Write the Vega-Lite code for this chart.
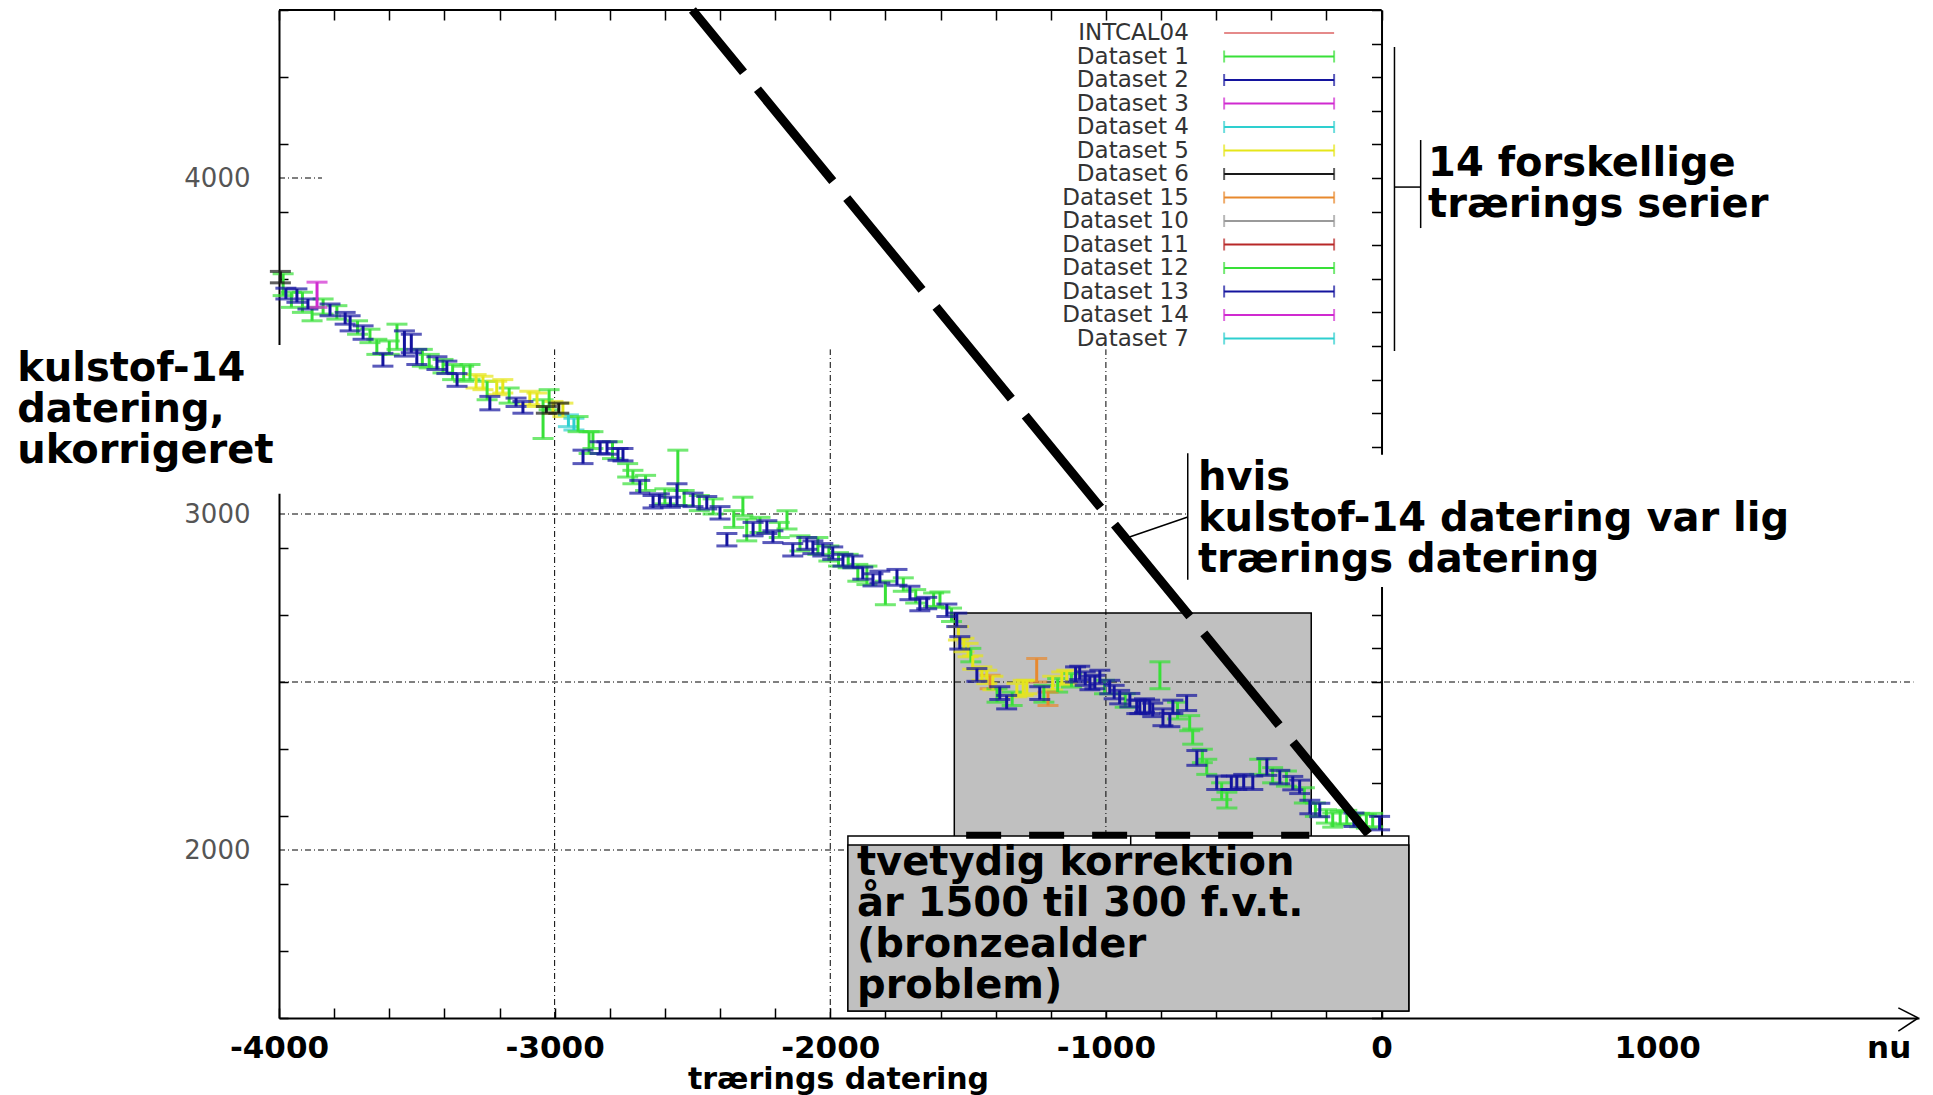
{
  "$schema": "https://vega.github.io/schema/vega-lite/v6.json",
  "autosize": {"type": "none"},
  "width": 1640,
  "height": 1008,
  "padding": {"left": 279, "top": 10, "right": 14, "bottom": 77},
  "background": "white",
  "config": {"view": {"stroke": null}, "font": "DejaVu Sans", "axis": {"grid": false}},
  "data": {"values": [{}]},
  "datasets": {
    "pts": [
      {"s":"Dataset 1","x":-3985,"lo":3650,"hi":3715},
      {"s":"Dataset 12","x":-3955,"lo":3615,"hi":3660},
      {"s":"Dataset 1","x":-3915,"lo":3600,"hi":3660},
      {"s":"Dataset 12","x":-3880,"lo":3575,"hi":3615},
      {"s":"Dataset 1","x":-3840,"lo":3595,"hi":3640},
      {"s":"Dataset 12","x":-3790,"lo":3580,"hi":3620},
      {"s":"Dataset 1","x":-3715,"lo":3535,"hi":3575},
      {"s":"Dataset 12","x":-3670,"lo":3510,"hi":3550},
      {"s":"Dataset 1","x":-3645,"lo":3475,"hi":3520},
      {"s":"Dataset 12","x":-3600,"lo":3475,"hi":3515},
      {"s":"Dataset 1","x":-3572,"lo":3490,"hi":3565},
      {"s":"Dataset 12","x":-3480,"lo":3440,"hi":3490},
      {"s":"Dataset 1","x":-3455,"lo":3435,"hi":3475},
      {"s":"Dataset 12","x":-3405,"lo":3420,"hi":3460},
      {"s":"Dataset 1","x":-3370,"lo":3400,"hi":3445},
      {"s":"Dataset 1","x":-3330,"lo":3395,"hi":3440},
      {"s":"Dataset 1","x":-3307,"lo":3400,"hi":3445},
      {"s":"Dataset 5","x":-3285,"lo":3375,"hi":3415},
      {"s":"Dataset 5","x":-3260,"lo":3370,"hi":3410},
      {"s":"Dataset 12","x":-3245,"lo":3340,"hi":3395},
      {"s":"Dataset 5","x":-3210,"lo":3355,"hi":3395},
      {"s":"Dataset 5","x":-3188,"lo":3360,"hi":3400},
      {"s":"Dataset 1","x":-3165,"lo":3330,"hi":3375},
      {"s":"Dataset 5","x":-3090,"lo":3325,"hi":3365},
      {"s":"Dataset 5","x":-3064,"lo":3320,"hi":3360},
      {"s":"Dataset 1","x":-3042,"lo":3225,"hi":3340},
      {"s":"Dataset 12","x":-3020,"lo":3310,"hi":3370},
      {"s":"Dataset 5","x":-3006,"lo":3300,"hi":3335},
      {"s":"Dataset 5","x":-2970,"lo":3290,"hi":3330},
      {"s":"Dataset 4","x":-2950,"lo":3260,"hi":3295},
      {"s":"Dataset 7","x":-2930,"lo":3250,"hi":3285},
      {"s":"Dataset 12","x":-2915,"lo":3245,"hi":3290},
      {"s":"Dataset 1","x":-2875,"lo":3180,"hi":3245},
      {"s":"Dataset 12","x":-2861,"lo":3195,"hi":3245},
      {"s":"Dataset 1","x":-2790,"lo":3165,"hi":3215},
      {"s":"Dataset 12","x":-2735,"lo":3110,"hi":3150},
      {"s":"Dataset 1","x":-2716,"lo":3090,"hi":3130},
      {"s":"Dataset 12","x":-2670,"lo":3070,"hi":3115},
      {"s":"Dataset 1","x":-2600,"lo":3030,"hi":3075},
      {"s":"Dataset 1","x":-2553,"lo":3070,"hi":3190},
      {"s":"Dataset 12","x":-2530,"lo":3025,"hi":3070},
      {"s":"Dataset 1","x":-2475,"lo":3010,"hi":3055},
      {"s":"Dataset 12","x":-2425,"lo":3000,"hi":3045},
      {"s":"Dataset 1","x":-2350,"lo":2960,"hi":3010},
      {"s":"Dataset 12","x":-2317,"lo":2995,"hi":3050},
      {"s":"Dataset 1","x":-2303,"lo":2920,"hi":2985},
      {"s":"Dataset 12","x":-2255,"lo":2945,"hi":2990},
      {"s":"Dataset 1","x":-2185,"lo":2930,"hi":2975},
      {"s":"Dataset 12","x":-2157,"lo":2955,"hi":3010},
      {"s":"Dataset 1","x":-2110,"lo":2890,"hi":2935},
      {"s":"Dataset 12","x":-2045,"lo":2880,"hi":2930},
      {"s":"Dataset 1","x":-2005,"lo":2860,"hi":2905},
      {"s":"Dataset 12","x":-1970,"lo":2845,"hi":2885},
      {"s":"Dataset 1","x":-1935,"lo":2840,"hi":2880},
      {"s":"Dataset 12","x":-1900,"lo":2800,"hi":2850},
      {"s":"Dataset 1","x":-1867,"lo":2790,"hi":2845},
      {"s":"Dataset 1","x":-1800,"lo":2730,"hi":2800},
      {"s":"Dataset 12","x":-1735,"lo":2770,"hi":2810},
      {"s":"Dataset 1","x":-1690,"lo":2735,"hi":2775},
      {"s":"Dataset 12","x":-1625,"lo":2725,"hi":2765},
      {"s":"Dataset 1","x":-1602,"lo":2722,"hi":2768},
      {"s":"Dataset 12","x":-1560,"lo":2680,"hi":2720},
      {"s":"Dataset 5","x":-1535,"lo":2625,"hi":2665},
      {"s":"Dataset 5","x":-1515,"lo":2590,"hi":2630},
      {"s":"Dataset 5","x":-1500,"lo":2575,"hi":2615},
      {"s":"Dataset 1","x":-1490,"lo":2560,"hi":2600},
      {"s":"Dataset 5","x":-1483,"lo":2538,"hi":2578},
      {"s":"Dataset 5","x":-1450,"lo":2505,"hi":2545},
      {"s":"Dataset 5","x":-1432,"lo":2495,"hi":2535},
      {"s":"Dataset 15","x":-1420,"lo":2480,"hi":2520},
      {"s":"Dataset 5","x":-1410,"lo":2477,"hi":2517},
      {"s":"Dataset 1","x":-1395,"lo":2440,"hi":2480},
      {"s":"Dataset 12","x":-1340,"lo":2430,"hi":2470},
      {"s":"Dataset 5","x":-1323,"lo":2456,"hi":2496},
      {"s":"Dataset 5","x":-1300,"lo":2460,"hi":2505},
      {"s":"Dataset 5","x":-1287,"lo":2465,"hi":2505},
      {"s":"Dataset 15","x":-1251,"lo":2500,"hi":2570},
      {"s":"Dataset 1","x":-1225,"lo":2440,"hi":2490},
      {"s":"Dataset 15","x":-1210,"lo":2430,"hi":2470},
      {"s":"Dataset 5","x":-1193,"lo":2477,"hi":2517},
      {"s":"Dataset 12","x":-1175,"lo":2470,"hi":2510},
      {"s":"Dataset 5","x":-1160,"lo":2490,"hi":2530},
      {"s":"Dataset 5","x":-1142,"lo":2495,"hi":2535},
      {"s":"Dataset 1","x":-1125,"lo":2485,"hi":2525},
      {"s":"Dataset 1","x":-1005,"lo":2465,"hi":2505},
      {"s":"Dataset 12","x":-930,"lo":2425,"hi":2465},
      {"s":"Dataset 1","x":-804,"lo":2480,"hi":2560},
      {"s":"Dataset 12","x":-740,"lo":2390,"hi":2440},
      {"s":"Dataset 12","x":-696,"lo":2355,"hi":2400},
      {"s":"Dataset 1","x":-685,"lo":2315,"hi":2360},
      {"s":"Dataset 12","x":-650,"lo":2260,"hi":2300},
      {"s":"Dataset 1","x":-634,"lo":2225,"hi":2270},
      {"s":"Dataset 12","x":-580,"lo":2150,"hi":2200},
      {"s":"Dataset 1","x":-561,"lo":2125,"hi":2172},
      {"s":"Dataset 1","x":-442,"lo":2225,"hi":2270},
      {"s":"Dataset 12","x":-395,"lo":2200,"hi":2245},
      {"s":"Dataset 1","x":-345,"lo":2190,"hi":2235},
      {"s":"Dataset 12","x":-280,"lo":2140,"hi":2185},
      {"s":"Dataset 1","x":-240,"lo":2100,"hi":2140},
      {"s":"Dataset 12","x":-200,"lo":2080,"hi":2120},
      {"s":"Dataset 1","x":-177,"lo":2068,"hi":2110},
      {"s":"Dataset 12","x":-150,"lo":2075,"hi":2115},
      {"s":"Dataset 1","x":-126,"lo":2078,"hi":2118},
      {"s":"Dataset 1","x":-79,"lo":2069,"hi":2109},
      {"s":"Dataset 12","x":-55,"lo":2065,"hi":2105},
      {"s":"Dataset 1","x":-32,"lo":2069,"hi":2109},
      {"s":"Dataset 6","x":-3995,"lo":3688,"hi":3722},
      {"s":"Dataset 2","x":-3975,"lo":3640,"hi":3672},
      {"s":"Dataset 13","x":-3935,"lo":3630,"hi":3670},
      {"s":"Dataset 2","x":-3895,"lo":3610,"hi":3640},
      {"s":"Dataset 14","x":-3862,"lo":3615,"hi":3690},
      {"s":"Dataset 13","x":-3815,"lo":3590,"hi":3625},
      {"s":"Dataset 2","x":-3760,"lo":3565,"hi":3600},
      {"s":"Dataset 2","x":-3742,"lo":3545,"hi":3590},
      {"s":"Dataset 2","x":-3695,"lo":3520,"hi":3560},
      {"s":"Dataset 2","x":-3623,"lo":3440,"hi":3478},
      {"s":"Dataset 13","x":-3545,"lo":3470,"hi":3545},
      {"s":"Dataset 2","x":-3520,"lo":3480,"hi":3535},
      {"s":"Dataset 2","x":-3500,"lo":3445,"hi":3490},
      {"s":"Dataset 2","x":-3427,"lo":3430,"hi":3468},
      {"s":"Dataset 2","x":-3391,"lo":3418,"hi":3455},
      {"s":"Dataset 13","x":-3354,"lo":3380,"hi":3418},
      {"s":"Dataset 2","x":-3235,"lo":3310,"hi":3350},
      {"s":"Dataset 2","x":-3140,"lo":3320,"hi":3345},
      {"s":"Dataset 13","x":-3115,"lo":3300,"hi":3335},
      {"s":"Dataset 6","x":-3030,"lo":3300,"hi":3320},
      {"s":"Dataset 6","x":-2985,"lo":3300,"hi":3330},
      {"s":"Dataset 2","x":-2897,"lo":3150,"hi":3190},
      {"s":"Dataset 2","x":-2835,"lo":3180,"hi":3215},
      {"s":"Dataset 2","x":-2810,"lo":3178,"hi":3215},
      {"s":"Dataset 13","x":-2770,"lo":3160,"hi":3195},
      {"s":"Dataset 2","x":-2752,"lo":3158,"hi":3195},
      {"s":"Dataset 2","x":-2691,"lo":3062,"hi":3100},
      {"s":"Dataset 2","x":-2643,"lo":3018,"hi":3055},
      {"s":"Dataset 2","x":-2620,"lo":3025,"hi":3060},
      {"s":"Dataset 13","x":-2580,"lo":3020,"hi":3050},
      {"s":"Dataset 2","x":-2556,"lo":3025,"hi":3090},
      {"s":"Dataset 2","x":-2498,"lo":3022,"hi":3062},
      {"s":"Dataset 2","x":-2448,"lo":3015,"hi":3052},
      {"s":"Dataset 2","x":-2400,"lo":2985,"hi":3022},
      {"s":"Dataset 2","x":-2375,"lo":2905,"hi":2942},
      {"s":"Dataset 13","x":-2280,"lo":2935,"hi":2975},
      {"s":"Dataset 2","x":-2230,"lo":2942,"hi":2980},
      {"s":"Dataset 2","x":-2208,"lo":2915,"hi":2950},
      {"s":"Dataset 2","x":-2136,"lo":2875,"hi":2912},
      {"s":"Dataset 13","x":-2085,"lo":2895,"hi":2930},
      {"s":"Dataset 2","x":-2063,"lo":2882,"hi":2920},
      {"s":"Dataset 2","x":-2027,"lo":2875,"hi":2912},
      {"s":"Dataset 2","x":-1991,"lo":2865,"hi":2902},
      {"s":"Dataset 2","x":-1954,"lo":2845,"hi":2880},
      {"s":"Dataset 2","x":-1918,"lo":2840,"hi":2875},
      {"s":"Dataset 2","x":-1882,"lo":2806,"hi":2842},
      {"s":"Dataset 2","x":-1845,"lo":2786,"hi":2822},
      {"s":"Dataset 2","x":-1820,"lo":2795,"hi":2830},
      {"s":"Dataset 2","x":-1758,"lo":2788,"hi":2835},
      {"s":"Dataset 2","x":-1711,"lo":2745,"hi":2785},
      {"s":"Dataset 2","x":-1675,"lo":2712,"hi":2748},
      {"s":"Dataset 13","x":-1650,"lo":2718,"hi":2752},
      {"s":"Dataset 2","x":-1577,"lo":2695,"hi":2732},
      {"s":"Dataset 2","x":-1541,"lo":2665,"hi":2705},
      {"s":"Dataset 2","x":-1530,"lo":2598,"hi":2635},
      {"s":"Dataset 2","x":-1468,"lo":2502,"hi":2540},
      {"s":"Dataset 2","x":-1385,"lo":2448,"hi":2486},
      {"s":"Dataset 2","x":-1360,"lo":2420,"hi":2460},
      {"s":"Dataset 2","x":-1240,"lo":2448,"hi":2486},
      {"s":"Dataset 2","x":-1110,"lo":2500,"hi":2545},
      {"s":"Dataset 2","x":-1095,"lo":2507,"hi":2547},
      {"s":"Dataset 13","x":-1075,"lo":2490,"hi":2530},
      {"s":"Dataset 2","x":-1058,"lo":2477,"hi":2517},
      {"s":"Dataset 2","x":-1040,"lo":2480,"hi":2520},
      {"s":"Dataset 2","x":-1022,"lo":2495,"hi":2535},
      {"s":"Dataset 2","x":-986,"lo":2465,"hi":2505},
      {"s":"Dataset 13","x":-970,"lo":2450,"hi":2490},
      {"s":"Dataset 2","x":-950,"lo":2435,"hi":2475},
      {"s":"Dataset 2","x":-913,"lo":2426,"hi":2466},
      {"s":"Dataset 2","x":-888,"lo":2406,"hi":2446},
      {"s":"Dataset 2","x":-877,"lo":2406,"hi":2446},
      {"s":"Dataset 13","x":-860,"lo":2410,"hi":2450},
      {"s":"Dataset 2","x":-841,"lo":2406,"hi":2446},
      {"s":"Dataset 2","x":-830,"lo":2397,"hi":2437},
      {"s":"Dataset 2","x":-793,"lo":2370,"hi":2420},
      {"s":"Dataset 13","x":-768,"lo":2367,"hi":2407},
      {"s":"Dataset 2","x":-757,"lo":2406,"hi":2446},
      {"s":"Dataset 2","x":-707,"lo":2415,"hi":2460},
      {"s":"Dataset 2","x":-670,"lo":2252,"hi":2296},
      {"s":"Dataset 2","x":-598,"lo":2180,"hi":2220},
      {"s":"Dataset 2","x":-545,"lo":2180,"hi":2220},
      {"s":"Dataset 2","x":-525,"lo":2180,"hi":2220},
      {"s":"Dataset 13","x":-500,"lo":2185,"hi":2225},
      {"s":"Dataset 2","x":-467,"lo":2180,"hi":2220},
      {"s":"Dataset 2","x":-416,"lo":2222,"hi":2272},
      {"s":"Dataset 2","x":-369,"lo":2197,"hi":2237},
      {"s":"Dataset 2","x":-322,"lo":2179,"hi":2219},
      {"s":"Dataset 13","x":-297,"lo":2168,"hi":2208},
      {"s":"Dataset 2","x":-260,"lo":2108,"hi":2148},
      {"s":"Dataset 2","x":-224,"lo":2099,"hi":2139},
      {"s":"Dataset 13","x":-100,"lo":2070,"hi":2110},
      {"s":"Dataset 13","x":-7,"lo":2060,"hi":2100}
    ],
    "hgrid": [
      {"y": 4000, "a": -4000, "b": -3844},
      {"y": 3000, "a": -4000, "b": 1950},
      {"y": 2500, "a": -4000, "b": 1930},
      {"y": 2000, "a": -4000, "b": -1936}
    ],
    "vgrid": [{"x": -3000}, {"x": -2000}, {"x": -1000}],
    "lines": [
      {"x1": 47, "y1": 3485, "x2": 47, "y2": 4390},
      {"x1": 47, "y1": 3973, "x2": 142, "y2": 3973},
      {"x1": 142, "y1": 3851, "x2": 142, "y2": 4113},
      {"x1": -703, "y1": 2804, "x2": -703, "y2": 3181},
      {"x1": -917, "y1": 2931, "x2": -703, "y2": 2991},
      {"x1": 1875, "y1": 1530, "x2": 1947, "y2": 1500},
      {"x1": 1947, "y1": 1500, "x2": 1875, "y2": 1461},
      {"x1": -910, "y1": 2015, "x2": -910, "y2": 2042}
    ],
    "leg": [
      {"name": "INTCAL04", "k": 0}, {"name": "Dataset 1", "k": 1}, {"name": "Dataset 2", "k": 2}, {"name": "Dataset 3", "k": 3},
      {"name": "Dataset 4", "k": 4}, {"name": "Dataset 5", "k": 5}, {"name": "Dataset 6", "k": 6}, {"name": "Dataset 15", "k": 7},
      {"name": "Dataset 10", "k": 8}, {"name": "Dataset 11", "k": 9}, {"name": "Dataset 12", "k": 10}, {"name": "Dataset 13", "k": 11},
      {"name": "Dataset 14", "k": 12}, {"name": "Dataset 7", "k": 13}
    ]
  },
  "resolve": {"scale": {"y": "independent"}, "axis": {"x": "independent", "y": "independent"}},
  "layer": [
    {
      "data": {"name": "hgrid"},
      "transform": [{"filter": "datum.y === 4000"}],
      "mark": {"type": "rule", "stroke": "black", "strokeWidth": 1, "strokeDash": [6, 3, 1, 3]},
      "encoding": {
        "x": {"field": "a", "type": "quantitative", "axis": null, "scale": {"domain": [-4000, 1950], "nice": false, "zero": false}},
        "x2": {"field": "b"},
        "y": {"field": "y", "type": "quantitative",
          "scale": {"domain": [1500, 4500], "nice": false, "zero": false},
          "axis": {"orient": "left", "values": [2000, 3000, 4000], "format": "d", "ticks": false, "domain": false,
            "labelPadding": 29, "labelFont": "DejaVu Sans", "labelFontSize": 26, "labelColor": "#555",
            "labelFlush": false, "labelOverlap": false, "labelBound": false, "grid": false, "title": null}
        }
      }
    },
    {
      "layer": [
        {
          "mark": {"type": "rect", "fill": "#c0c0c0", "stroke": "black", "strokeWidth": 1.5},
          "encoding": {
            "x": {"datum": -1550, "type": "quantitative",
              "scale": {"domain": [-4000, 1950], "nice": false, "zero": false},
              "axis": {
                "orient": "bottom",
                "values": [-4000,-3800,-3600,-3400,-3200,-3000,-2800,-2600,-2400,-2200,-2000,-1800,-1600,-1400,-1200,-1000,-800,-600,-400,-200,0,1000,1840],
                "labelExpr": "datum.value === 1840 ? 'nu' : (datum.value % 1000 === 0 ? '' + datum.value : '')",
                "tickSize": -10, "tickWidth": 1.5,
                "tickColor": {"condition": {"test": "datum.value > 0", "value": "transparent"}, "value": "black"},
                "domainColor": "black", "domainWidth": 2,
                "labelFont": "DejaVu Sans", "labelFontWeight": "bold", "labelFontSize": 31, "labelColor": "black",
                "labelPadding": 49, "labelBaseline": "alphabetic", "labelFlush": false, "labelOverlap": false, "labelBound": false,
                "grid": false,
                "title": "trærings datering", "titleFont": "DejaVu Sans", "titleFontWeight": "bold", "titleFontSize": 30,
                "titleColor": "black", "titleX": 559, "titleY": 70, "titleBaseline": "alphabetic", "titleAlign": "center"
              }
            },
            "x2": {"datum": -255},
            "y": {"datum": 2036, "type": "quantitative",
              "scale": {"domain": [1500, 4500], "nice": false, "zero": false},
              "axis": {
                "orient": "left",
                "values": [1500,1600,1700,1800,1900,2000,2100,2200,2300,2400,2500,2600,2700,2800,2900,3000,3100,3200,3300,3400,3500,3600,3700,3800,3900,4000,4100,4200,4300,4400,4500],
                "labels": false,
                "tickSize": -9, "tickWidth": 1.5, "tickColor": "black",
                "domainColor": "black", "domainWidth": 2,
                "grid": false, "title": null
              }
            },
            "y2": {"datum": 2705}
          }
        },
        {
          "data": {"name": "hgrid"},
          "transform": [{"filter": "datum.y !== 4000"}],
          "mark": {"type": "rule", "stroke": "black", "strokeWidth": 1, "strokeDash": [6, 3, 1, 3]},
          "encoding": {
            "x": {"field": "a", "type": "quantitative"},
            "x2": {"field": "b"},
            "y": {"field": "y", "type": "quantitative"}
          }
        },
        {
          "data": {"name": "vgrid"},
          "mark": {"type": "rule", "stroke": "black", "strokeWidth": 1, "strokeDash": [6, 3, 1, 3]},
          "encoding": {
            "x": {"field": "x", "type": "quantitative"},
            "y": {"datum": 1500, "type": "quantitative"},
            "y2": {"datum": 3490}
          }
        },
        {
          "data": {"name": "pts"},
          "transform": [{"filter": {"field": "s", "oneOf": ["Dataset 1","Dataset 12","Dataset 5","Dataset 4","Dataset 7","Dataset 15","Dataset 10"]}}],
          "mark": {"type": "errorbar", "ticks": {"size": 21}, "thickness": 3},
          "encoding": {
            "x": {"field": "x", "type": "quantitative"},
            "y": {"field": "lo", "type": "quantitative"},
            "y2": {"field": "hi"},
            "color": {"field": "s", "type": "nominal", "legend": null,
              "scale": {
                "domain": ["INTCAL04","Dataset 1","Dataset 2","Dataset 3","Dataset 4","Dataset 5","Dataset 6","Dataset 15","Dataset 10","Dataset 11","Dataset 12","Dataset 13","Dataset 14","Dataset 7"],
                "range": ["#e58a8a","#38e038","#14149e","#d02ad0","#2ecfcf","#e6e61a","#1a1a1a","#e8892e","#9a9a9a","#b82828","#38e038","#14149e","#d02ad0","#2ecfcf"]
              }
            }
          }
        },
        {
          "data": {"name": "pts"},
          "transform": [{"filter": {"field": "s", "oneOf": ["Dataset 2","Dataset 13","Dataset 6","Dataset 3","Dataset 14","Dataset 11"]}}],
          "mark": {"type": "errorbar", "ticks": {"size": 21}, "thickness": 3},
          "encoding": {
            "x": {"field": "x", "type": "quantitative"},
            "y": {"field": "lo", "type": "quantitative"},
            "y2": {"field": "hi"},
            "color": {"field": "s", "type": "nominal", "legend": null}
          }
        },
        {
          "mark": {"type": "rule", "stroke": "black", "strokeWidth": 9, "strokeDash": [118.75, 22], "strokeDashOffset": 38.25, "strokeCap": "butt"},
          "encoding": {
            "x": {"datum": -2500, "type": "quantitative"},
            "y": {"datum": 4500, "type": "quantitative"},
            "x2": {"datum": -36},
            "y2": {"datum": 2036}
          }
        },
        {
          "mark": {"type": "rect", "fill": "white", "strokeWidth": 0},
          "encoding": {
            "x": {"datum": -703, "type": "quantitative"},
            "x2": {"datum": 1960},
            "y": {"datum": 2783, "type": "quantitative"},
            "y2": {"datum": 3176}
          }
        },
        {
          "mark": {"type": "rect", "fill": "white", "strokeWidth": 0},
          "encoding": {
            "x": {"datum": -5010, "type": "quantitative"},
            "x2": {"datum": -3780},
            "y": {"datum": 3060, "type": "quantitative"},
            "y2": {"datum": 3503}
          }
        },
        {
          "mark": {"type": "rect", "fill": "white", "stroke": "black", "strokeWidth": 1.5},
          "encoding": {
            "x": {"datum": -1936, "type": "quantitative"},
            "x2": {"datum": 99},
            "y": {"datum": 1521, "type": "quantitative"},
            "y2": {"datum": 2042}
          }
        },
        {
          "mark": {"type": "rect", "fill": "#c0c0c0", "stroke": "black", "strokeWidth": 1.5},
          "encoding": {
            "x": {"datum": -1936, "type": "quantitative"},
            "x2": {"datum": 99},
            "y": {"datum": 1521, "type": "quantitative"},
            "y2": {"datum": 2015}
          }
        },
        {
          "mark": {"type": "rule", "stroke": "black", "strokeWidth": 7, "strokeDash": [35, 28], "strokeCap": "butt"},
          "encoding": {
            "x": {"datum": -1507, "type": "quantitative"},
            "x2": {"datum": -262},
            "y": {"datum": 2044, "type": "quantitative"}
          }
        },
        {
          "data": {"name": "lines"},
          "mark": {"type": "rule", "stroke": "black", "strokeWidth": 1.5},
          "encoding": {
            "x": {"field": "x1", "type": "quantitative"},
            "y": {"field": "y1", "type": "quantitative"},
            "x2": {"field": "x2"},
            "y2": {"field": "y2"}
          }
        },
        {
          "mark": {"type": "text", "align": "left", "baseline": "alphabetic", "font": "DejaVu Sans", "fontWeight": "bold", "fontSize": 40, "lineHeight": 41, "color": "black"},
          "encoding": {
            "x": {"datum": -4950, "type": "quantitative"},
            "y": {"datum": 3396, "type": "quantitative"},
            "text": {"value": ["kulstof-14", "datering,", "ukorrigeret"]}
          }
        },
        {
          "mark": {"type": "text", "align": "left", "baseline": "alphabetic", "font": "DejaVu Sans", "fontWeight": "bold", "fontSize": 40, "lineHeight": 41, "color": "black"},
          "encoding": {
            "x": {"datum": -666, "type": "quantitative"},
            "y": {"datum": 3071, "type": "quantitative"},
            "text": {"value": ["hvis", "kulstof-14 datering var lig", "trærings datering"]}
          }
        },
        {
          "mark": {"type": "text", "align": "left", "baseline": "alphabetic", "font": "DejaVu Sans", "fontWeight": "bold", "fontSize": 40, "lineHeight": 41, "color": "black"},
          "encoding": {
            "x": {"datum": 169, "type": "quantitative"},
            "y": {"datum": 4006, "type": "quantitative"},
            "text": {"value": ["14 forskellige", "trærings serier"]}
          }
        },
        {
          "mark": {"type": "text", "align": "left", "baseline": "alphabetic", "font": "DejaVu Sans", "fontWeight": "bold", "fontSize": 40, "lineHeight": 41, "color": "black"},
          "encoding": {
            "x": {"datum": -1903, "type": "quantitative"},
            "y": {"datum": 1926, "type": "quantitative"},
            "text": {"value": ["tvetydig korrektion", "år 1500 til 300 f.v.t.", "(bronzealder", "problem)"]}
          }
        }
      ]
    },
    {
      "layer": [
        {
          "mark": {"type": "rule", "stroke": "black", "strokeWidth": 2},
          "encoding": {
            "x": {"datum": -4000, "type": "quantitative",
              "scale": {"domain": [-4000, 1950], "nice": false, "zero": false},
              "axis": {
                "orient": "top",
                "values": [-4000,-3800,-3600,-3400,-3200,-3000,-2800,-2600,-2400,-2200,-2000,-1800,-1600,-1400,-1200,-1000,-800,-600,-400,-200,0],
                "labels": false, "domain": false, "tickSize": -10, "tickWidth": 1.5, "tickColor": "black",
                "grid": false, "title": null
              }
            },
            "x2": {"datum": 0},
            "y": {"datum": 4500, "type": "quantitative",
              "scale": {"domain": [1500, 4500], "nice": false, "zero": false},
              "axis": {
                "orient": "right", "offset": -537.48,
                "values": [1500,1600,1700,1800,1900,2000,2100,2200,2300,2400,2500,2600,2700,2800,2900,3000,3100,3200,3300,3400,3500,3600,3700,3800,3900,4000,4100,4200,4300,4400,4500],
                "labels": false, "domain": true, "domainColor": "black", "domainWidth": 2,
                "tickSize": -10, "tickWidth": 1.5, "tickColor": "black",
                "grid": false, "title": null
              }
            }
          }
        }
      ]
    },
    {
      "data": {"name": "leg"},
      "layer": [
        {
          "mark": {"type": "text", "align": "right", "baseline": "middle", "font": "DejaVu Sans", "fontSize": 23, "color": "#333"},
          "encoding": {
            "x": {"datum": -699, "type": "quantitative", "axis": null},
            "y": {"field": "k", "type": "quantitative", "axis": null,
              "scale": {"domain": [-0.979, 41.915], "reverse": true, "nice": false, "zero": false}},
            "text": {"field": "name"}
          }
        },
        {
          "mark": {"type": "rule", "strokeWidth": 2},
          "encoding": {
            "x": {"datum": -571, "type": "quantitative", "axis": null},
            "x2": {"datum": -172},
            "y": {"field": "k", "type": "quantitative", "axis": null},
            "color": {"field": "name", "type": "nominal", "legend": null}
          }
        },
        {
          "transform": [{"filter": "datum.name !== 'INTCAL04'"}],
          "mark": {"type": "tick", "orient": "vertical", "size": 12, "thickness": 2},
          "encoding": {
            "x": {"datum": -571, "type": "quantitative", "axis": null},
            "y": {"field": "k", "type": "quantitative", "axis": null},
            "color": {"field": "name", "type": "nominal", "legend": null}
          }
        },
        {
          "transform": [{"filter": "datum.name !== 'INTCAL04'"}],
          "mark": {"type": "tick", "orient": "vertical", "size": 12, "thickness": 2},
          "encoding": {
            "x": {"datum": -172, "type": "quantitative", "axis": null},
            "y": {"field": "k", "type": "quantitative", "axis": null},
            "color": {"field": "name", "type": "nominal", "legend": null}
          }
        }
      ]
    }
  ]
}
